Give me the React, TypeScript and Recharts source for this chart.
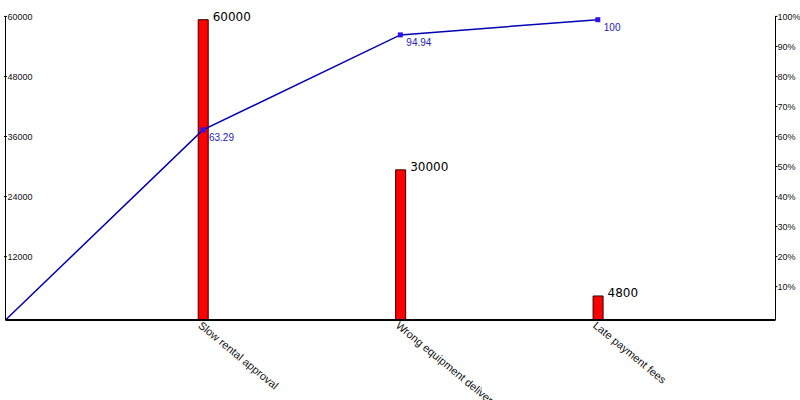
import React from 'react';
import { ComposedChart, Bar, Line, XAxis, YAxis, LabelList } from 'recharts';

// Pareto data
const categories = ['Slow rental approval', 'Wrong equipment delivery', 'Late payment fees'];
const counts = [60000, 30000, 4800];
const cumulativePct = [63.29, 94.94, 100];
const countTicks = [12000, 24000, 36000, 48000, 60000];
const pctTicks = [10, 20, 30, 40, 50, 60, 70, 80, 90, 100];

// origin point for the cumulative line, then one row per category
const rows: any[] = [
  { pos: 0, cum: 0 },
  ...categories.map((name, i) => ({ pos: i + 1, name, count: counts[i], cum: cumulativePct[i] })),
];

const AXIS_FONT = '"Liberation Sans", Arial, sans-serif';
const TICK_SHIFT = -3.3;

const LeftTick = ({ x, y, payload }: any) => (
  <g transform={`translate(${x},${y + TICK_SHIFT})`}>
    <line x1={-1.5} x2={1.5} y1={0} y2={0} stroke="#000" />
    <text x={2} y={0} dy="0.35em" fontSize={9} fontFamily={AXIS_FONT} fill="#111" textAnchor="start">
      {payload.value}
    </text>
  </g>
);

const RightTick = ({ x, y, payload }: any) => (
  <g transform={`translate(${x},${y + TICK_SHIFT})`}>
    <line x1={-0.5} x2={2} y1={0} y2={0} stroke="#000" />
    <text x={2} y={0} dy="0.35em" fontSize={9} fontFamily={AXIS_FONT} fill="#111" textAnchor="start">
      {`${payload.value}%`}
    </text>
  </g>
);

const CategoryTick = ({ x, y, payload }: any) => (
  <g transform={`translate(${x},${y}) rotate(39.5)`}>
    <text x={0} y={0} dy="0.78em" fontSize={11} fontFamily={AXIS_FONT} fill="#111" textAnchor="start">
      {categories[payload.value - 1]}
    </text>
  </g>
);

const ParetoDot = ({ cx, cy, index }: any) => {
  if (index === 0) return <g key={`d-${index}`} />;
  return <rect key={`d-${index}`} x={cx - 2.5} y={cy - 2.5} width={5} height={5} fill="#3311ee" />;
};

const BarValue = ({ x, y, width, value }: any) => {
  if (value == null) return null;
  return (
    <text x={x + width + 4.5} y={y + 1} fontSize={12} fontFamily='"DejaVu Sans", sans-serif' fill="#000">
      {value}
    </text>
  );
};

const PctValue = ({ x, y, value, index }: any) => {
  if (index === 0) return null;
  return (
    <text x={x + 6} y={y + 11} fontSize={10} fontFamily={AXIS_FONT} fill="#2222bb">
      {value}
    </text>
  );
};

export default function App() {
  return (
    <div style={{ position: 'absolute', left: 0, top: 0, width: 800, height: 400, background: '#fff' }}>
      <ComposedChart
        width={800}
        height={400}
        data={rows}
        margin={{ top: 16.7, right: 23.5, bottom: 79, left: 4.5 }}
      >
        <XAxis
          dataKey="pos"
          type="number"
          domain={[0, 3.9]}
          ticks={[1, 2, 3]}
          allowDataOverflow
          height={1}
          tickLine={false}
          tickSize={0}
          tickMargin={0}
          axisLine={{ stroke: '#000', strokeWidth: 2 }}
          tick={<CategoryTick />}
          interval={0}
        />
        <YAxis
          yAxisId="count"
          orientation="left"
          width={1}
          domain={[0, 60600]}
          ticks={countTicks}
          tickLine={false}
          tickSize={0}
          tickMargin={0}
          axisLine={{ stroke: '#000' }}
          tick={<LeftTick />}
          interval={0}
        />
        <YAxis
          yAxisId="pct"
          orientation="right"
          width={1}
          domain={[0, 101]}
          ticks={pctTicks}
          tickLine={false}
          tickSize={0}
          tickMargin={0}
          axisLine={{ stroke: '#000' }}
          tick={<RightTick />}
          interval={0}
        />
        <Bar
          yAxisId="count"
          dataKey="count"
          barSize={10}
          fill="#ff0000"
          stroke="#300000"
          strokeWidth={1}
          isAnimationActive={false}
        >
          <LabelList dataKey="count" content={<BarValue />} />
        </Bar>
        <Line
          yAxisId="pct"
          type="linear"
          dataKey="cum"
          stroke="#0000b4"
          strokeWidth={1.5}
          dot={<ParetoDot />}
          activeDot={false}
          isAnimationActive={false}
        >
          <LabelList dataKey="cum" content={<PctValue />} />
        </Line>
      </ComposedChart>
    </div>
  );
}
